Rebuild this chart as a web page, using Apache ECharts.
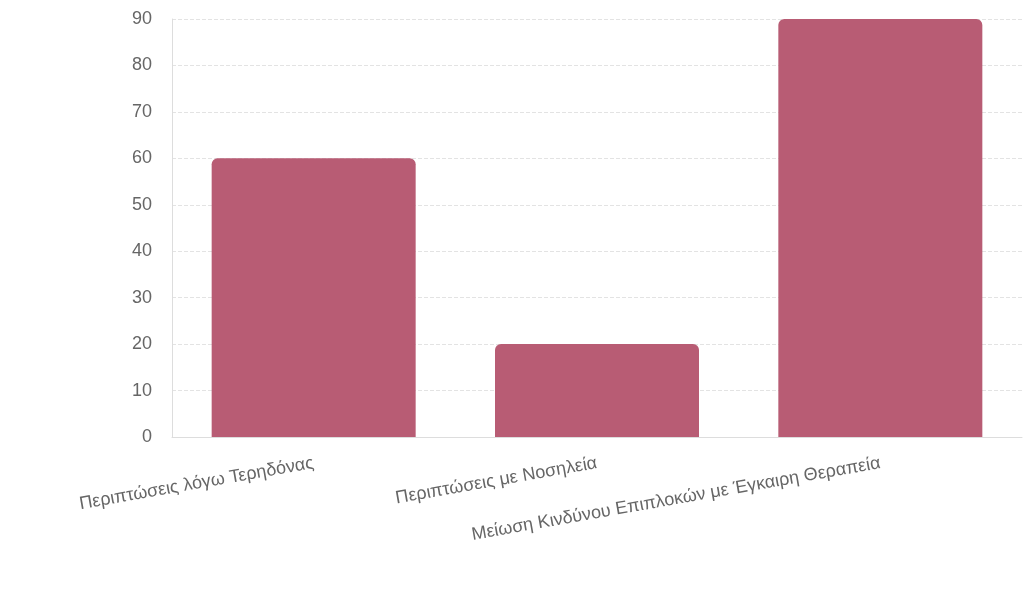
<!DOCTYPE html>
<html><head><meta charset="utf-8">
<script src="https://cdn.jsdelivr.net/npm/echarts@6/dist/echarts.min.js"></script>
<style>html,body{margin:0;padding:0;background:#fff}#c{width:1024px;height:593px}</style>
</head><body><div id="c"></div>
<script>
const categories = ["Περιπτώσεις λόγω Τερηδόνας","Περιπτώσεις με Νοσηλεία","Μείωση Κινδύνου Επιπλοκών με Έγκαιρη Θεραπεία"];
const values = [60, 20, 90];
const chart = echarts.init(document.getElementById('c'));
chart.setOption({
  animation:false,
  grid:{left:172,right:2,top:19,bottom:156,containLabel:false},
  xAxis:{type:'category',data:categories,
    axisLine:{lineStyle:{color:'#ddd'}},axisTick:{show:false},
    axisLabel:{rotate:10,interval:0,margin:26,fontSize:18,color:'#666',fontFamily:'Liberation Sans, Arial, sans-serif'}},
  yAxis:{type:'value',min:0,max:90,interval:10,
    axisLine:{show:true,lineStyle:{color:'#ddd'}},
    splitLine:{lineStyle:{type:'dashed',color:'#e3e3e3'}},
    axisLabel:{fontSize:18,color:'#666',margin:20,fontFamily:'Liberation Sans, Arial, sans-serif'}},
  series:[{type:'bar',data:values,barWidth:'72%',
    itemStyle:{color:'#b85c74',borderRadius:[6,6,0,0]}}]
});
</script></body></html>
